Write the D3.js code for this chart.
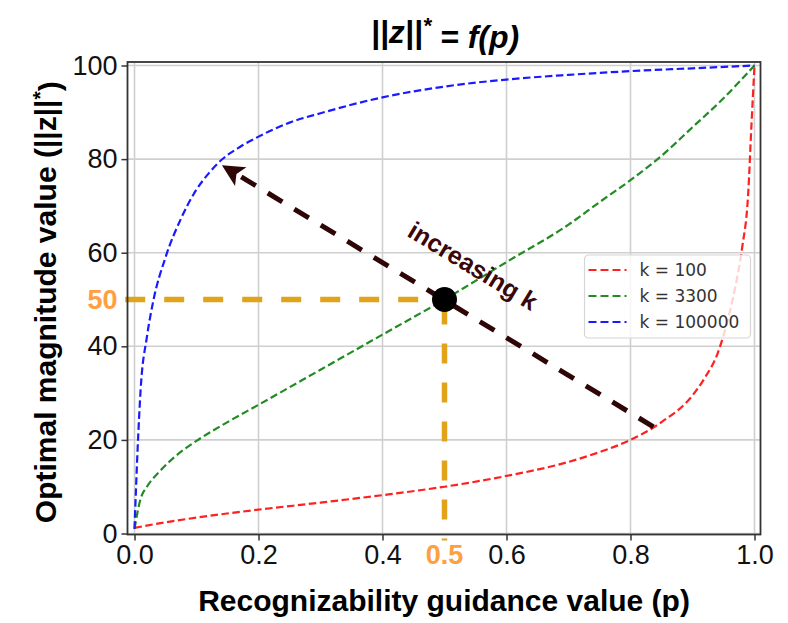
<!DOCTYPE html>
<html>
<head>
<meta charset="utf-8">
<title>||z||* = f(p)</title>
<script src="https://cdnjs.cloudflare.com/ajax/libs/d3/7.8.5/d3.min.js"></script>
<style>
  body { margin: 0; background: #fff; }
  text { font-family: "Liberation Sans", Arial, sans-serif; }
</style>
</head>
<body>
<div id="chart"></div>
<script>
// values
const redP   = [0, 0.05, 0.1, 0.2, 0.3, 0.4, 0.5, 0.6, 0.7, 0.75, 0.8, 0.85, 0.9, 0.92, 0.94, 0.95, 0.96, 0.97, 0.98, 0.99, 0.995, 1];
const redV   = [1.2, 2.4, 3.4, 5.1, 6.6, 8.2, 10, 12.3, 15.3, 17.4, 20, 23.8, 29.5, 33.3, 38.3, 42.3, 47.3, 53.3, 61, 73, 87, 100];
const greenP = [0, 0.01, 0.02, 0.04, 0.065, 0.1, 0.15, 0.2, 0.3, 0.4, 0.5, 0.6, 0.7, 0.75, 0.8, 0.85, 0.9, 0.95, 1];
const greenV = [1, 7.5, 10, 13.2, 16.4, 19.8, 23.8, 27.5, 35, 42.5, 50, 58, 66, 70.8, 75.5, 80.7, 86.8, 93, 100];
const blueP  = [0, 0.005, 0.01, 0.02, 0.03, 0.05, 0.075, 0.1, 0.12, 0.14, 0.17, 0.2, 0.25, 0.3, 0.4, 0.5, 0.6, 0.7, 0.8, 0.9, 1];
const blueV  = [1, 18, 31, 42, 49.5, 59, 67.3, 73.5, 77, 79.8, 82.6, 84.8, 87.8, 89.8, 93.2, 95.5, 97, 98, 98.8, 99.4, 100];

const seriesNames  = ["k = 100", "k = 3300", "k = 100000"];
const seriesColors = ["#ff2020", "#228b22", "#1a1aff"];

const xTicks = [0, 0.2, 0.4, 0.6, 0.8, 1.0];
const yTicks = [0, 20, 40, 60, 80, 100];

// highlighted point and the "increasing k" arrow (data coords)
const markP = 0.5, markV = 50;
const arrowFrom = [0.837, 22.8];
const arrowTo   = [0.141, 78.7];

const width = 788, height = 623;
const plot = { left: 127.5, right: 760.5, top: 62, bottom: 534.5 };

const svg = d3.select("#chart").append("svg")
    .attr("width", width)
    .attr("height", height);

const x = d3.scaleLinear().domain([-0.0113, 1.0097]).range([plot.left, plot.right]);
const y = d3.scaleLinear().domain([-0.21, 100.75]).range([plot.bottom, plot.top]);

// grid
const grid = svg.append("g");
grid.selectAll("line.gx").data(xTicks).enter().append("line")
    .attr("x1", d => x(d)).attr("x2", d => x(d))
    .attr("y1", plot.top).attr("y2", plot.bottom)
    .style("stroke", "#cfcfcf").style("stroke-width", 1.6);
grid.selectAll("line.gy").data(yTicks).enter().append("line")
    .attr("y1", d => y(d)).attr("y2", d => y(d))
    .attr("x1", plot.left).attr("x2", plot.right)
    .style("stroke", "#cfcfcf").style("stroke-width", 1.6);

// curves
const pSets = [redP, greenP, blueP];
const vSets = [redV, greenV, blueV];
const line = d3.line()
    .x(d => x(d[0]))
    .y(d => y(d[1]))
    .curve(d3.curveMonotoneX);

seriesNames.forEach((name, i) => {
    const pts = pSets[i].map((p, j) => [p, vSets[i][j]]);
    svg.append("path")
        .datum(pts)
        .attr("d", line)
        .style("fill", "none")
        .style("stroke", seriesColors[i])
        .style("stroke-width", 2.2)
        .style("stroke-dasharray", "7.5,3.5");
});

// orange guide lines
const guide = "#e0a31a";
svg.append("line")
    .attr("x1", x(-0.015)).attr("x2", x(markP))
    .attr("y1", y(markV)).attr("y2", y(markV))
    .style("stroke", guide).style("stroke-width", 5.5)
    .style("stroke-dasharray", "20,19");
svg.append("line")
    .attr("x1", x(markP)).attr("x2", x(markP))
    .attr("y1", y(markV)).attr("y2", y(-1.5))
    .style("stroke", guide).style("stroke-width", 5.5)
    .style("stroke-dasharray", "20,19")
    .style("stroke-dashoffset", -5);

// arrow
const ax0 = x(arrowFrom[0]), ay0 = y(arrowFrom[1]);
const ax1 = x(arrowTo[0]),   ay1 = y(arrowTo[1]);
const len = Math.hypot(ax1 - ax0, ay1 - ay0);
const ux = (ax1 - ax0) / len, uy = (ay1 - ay0) / len;
const headLen = 22, headHalf = 11;
const arrowColor = "#2e0606";
svg.append("line")
    .attr("x1", ax0).attr("y1", ay0)
    .attr("x2", ax1 - ux * (headLen - 4)).attr("y2", ay1 - uy * (headLen - 4))
    .style("stroke", arrowColor).style("stroke-width", 5)
    .style("stroke-dasharray", "17,14");
const bx = ax1 - ux * headLen, by = ay1 - uy * headLen;
const nx = ax1 - ux * (headLen - 5), ny = ay1 - uy * (headLen - 5);
svg.append("path")
    .attr("d", `M${ax1},${ay1} L${bx - uy * headHalf},${by + ux * headHalf} L${nx},${ny} L${bx + uy * headHalf},${by - ux * headHalf} Z`)
    .style("fill", arrowColor);

const angle = Math.atan2(ay0 - ay1, ax0 - ax1) * 180 / Math.PI;
svg.append("text")
    .attr("transform", `translate(${x(0.546)},${y(57.2)}) rotate(${angle})`)
    .attr("text-anchor", "middle")
    .attr("dy", "0.35em")
    .style("font-size", "25px")
    .style("font-weight", "bold")
    .style("fill", "#3a0808")
    .text("increasing k");

// marked point
svg.append("circle")
    .attr("cx", x(markP)).attr("cy", y(markV))
    .attr("r", 12.5)
    .style("fill", "#000");

// frame
svg.append("rect")
    .attr("x", plot.left).attr("y", plot.top)
    .attr("width", plot.right - plot.left).attr("height", plot.bottom - plot.top)
    .style("fill", "none").style("stroke", "#333").style("stroke-width", 1.8);

// axes
const xAxis = svg.append("g")
    .attr("transform", `translate(0,${plot.bottom})`)
    .call(d3.axisBottom(x).tickValues(xTicks).tickFormat(d3.format(".1f")).tickSize(6).tickPadding(4));
const yAxis = svg.append("g")
    .attr("transform", `translate(${plot.left},0)`)
    .call(d3.axisLeft(y).tickValues(yTicks).tickSize(6).tickPadding(4));
[xAxis, yAxis].forEach(g => {
    g.select(".domain").remove();
    g.selectAll(".tick line").style("stroke", "#333").style("stroke-width", 1.5);
    g.selectAll(".tick text")
        .style("font-family", "'Liberation Sans', Arial, sans-serif")
        .style("font-size", "27px")
        .style("fill", "#111");
});

// orange value labels
svg.append("text")
    .attr("x", plot.left - 10).attr("y", y(markV))
    .attr("dy", "0.35em")
    .attr("text-anchor", "end")
    .style("font-size", "27px").style("font-weight", "bold")
    .style("fill", "#ffa040")
    .text("50");
svg.append("text")
    .attr("x", x(markP)).attr("y", plot.bottom + 10)
    .attr("dy", "0.71em")
    .attr("text-anchor", "middle")
    .style("font-size", "27px").style("font-weight", "bold")
    .style("fill", "#ffa040")
    .text("0.5");

// axis titles
svg.append("text")
    .attr("x", (plot.left + plot.right) / 2).attr("y", 611)
    .attr("text-anchor", "middle")
    .style("font-size", "30px").style("font-weight", "bold")
    .text("Recognizability guidance value (p)");

const yl = svg.append("text")
    .attr("transform", `translate(56,${(plot.top + plot.bottom) / 2 + 4}) rotate(-90)`)
    .attr("text-anchor", "middle")
    .style("font-size", "30px").style("font-weight", "bold");
yl.append("tspan").text("Optimal magnitude value (||z||");
yl.append("tspan").attr("dy", "-0.45em").style("font-size", "21px").text("*");
yl.append("tspan").attr("dy", "0.45em").text(")");

// title
const tt = svg.append("text")
    .attr("x", 445).attr("y", 43)
    .attr("text-anchor", "middle")
    .style("font-family", "'Liberation Sans', Arial, sans-serif")
    .style("font-size", "32px").style("font-weight", "bold").style("font-style", "italic");
tt.append("tspan").text("||z||");
tt.append("tspan").attr("dy", "-0.45em").style("font-size", "22px").text("*");
tt.append("tspan").attr("dy", "0.45em").text(" = f(p)");

// legend
const lg = svg.append("g").attr("transform", `translate(${plot.right - 176},255)`);
lg.append("rect")
    .attr("width", 166).attr("height", 83).attr("rx", 4)
    .style("fill", "#fff").style("fill-opacity", 0.8)
    .style("stroke", "#d6d6d6").style("stroke-width", 1.2);
seriesNames.forEach((name, i) => {
    const row = lg.append("g").attr("transform", `translate(0,${15 + i * 26})`);
    row.append("line")
        .attr("x1", 4).attr("x2", 42)
        .style("stroke", seriesColors[i]).style("stroke-width", 2.2)
        .style("stroke-dasharray", "8,4");
    row.append("text")
        .attr("x", 55).attr("dy", "0.35em")
        .style("font-family", "'DejaVu Sans', sans-serif")
        .style("font-size", "17px")
        .style("fill", "#333")
        .text(name);
});
</script>
</body>
</html>
